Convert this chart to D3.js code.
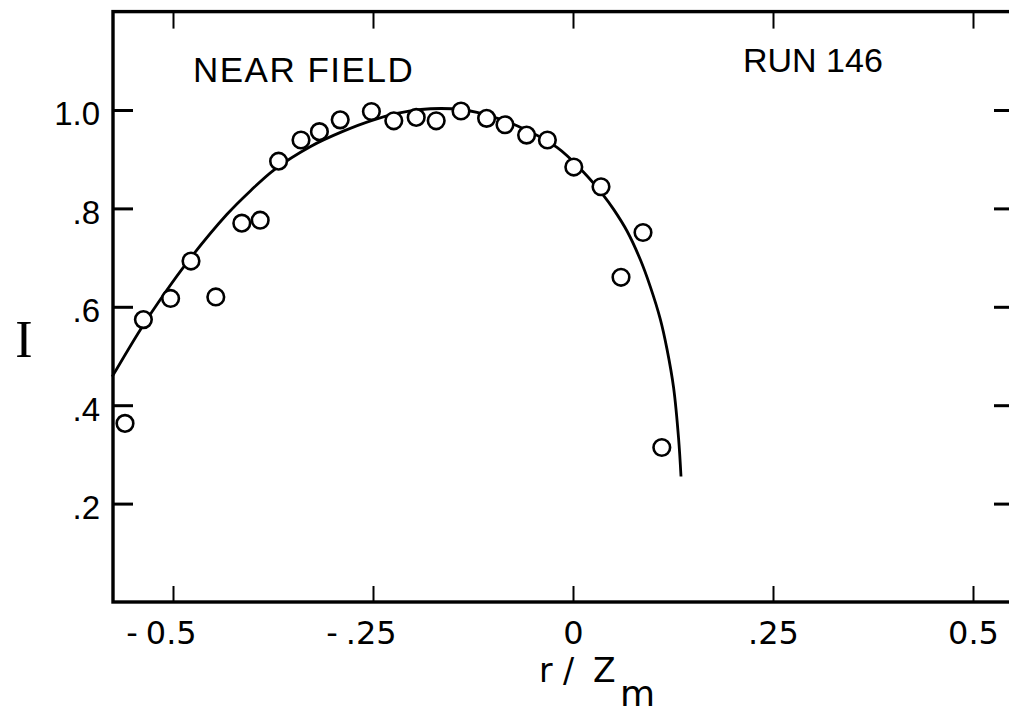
<!DOCTYPE html>
<html>
<head>
<meta charset="utf-8">
<script src="https://cdn.jsdelivr.net/npm/d3@7"></script>
<style>
  html, body { margin: 0; padding: 0; background: #fff; }
  svg { display: block; }
</style>
</head>
<body>
<svg id="chart" width="1009" height="715"></svg>
<script>
// ---- data ----
const xTicks = [-0.5, -0.25, 0, 0.25, 0.5];
const xTickLabels = ["-0.5", "-.25", "0", ".25", "0.5"];
const yTicks = [0.2, 0.4, 0.6, 0.8, 1.0];
const yTickLabels = [".2", ".4", ".6", ".8", "1.0"];

// measured points (r/Zm, I)
const pointR = [-0.560, -0.537, -0.503, -0.4775, -0.4465, -0.414, -0.391, -0.368, -0.340, -0.317,
                -0.291, -0.252, -0.224, -0.196, -0.171, -0.140, -0.108, -0.085, -0.058, -0.032,
                0.001, 0.035, 0.060, 0.0875, 0.111];
const pointI = [0.363, 0.574, 0.617, 0.693, 0.620, 0.770, 0.776, 0.896, 0.939, 0.956,
                0.980, 0.997, 0.978, 0.985, 0.978, 0.998, 0.983, 0.970, 0.949, 0.939,
                0.884, 0.844, 0.660, 0.751, 0.314];

// fitted curve
const curveR = [-0.576, -0.541, -0.512, -0.4825, -0.4325, -0.403, -0.374, -0.328, -0.287, -0.253,
                -0.220, -0.190, -0.165, -0.140, -0.120, -0.070, -0.020, 0.013, 0.0383, 0.0508,
                0.0675, 0.0841, 0.0966, 0.1091, 0.1175, 0.1258, 0.132, 0.135];
const curveI = [0.458, 0.553, 0.624, 0.690, 0.788, 0.836, 0.878, 0.926, 0.957, 0.978,
                0.993, 1.001, 1.003, 1.001, 0.995, 0.968, 0.924, 0.874, 0.826, 0.798,
                0.754, 0.696, 0.641, 0.575, 0.514, 0.435, 0.332, 0.255];

const title1 = "NEAR FIELD";
const title2 = "RUN 146";

// ---- drawing ----
const svg = d3.select("#chart");
const x = d3.scaleLinear().domain([-0.575, 0.55]).range([113, 1013]);
const y = d3.scaleLinear().domain([0, 1.2]).range([602, 11.6]);
const sans = "'Liberation Sans', Arial, sans-serif";
const tickFont = "'DejaVu Sans', sans-serif";

// frame
svg.append("rect")
  .attr("x", x(-0.575)).attr("y", y(1.2))
  .attr("width", x(0.55) - x(-0.575)).attr("height", y(0) - y(1.2))
  .attr("fill", "none").attr("stroke", "#000").attr("stroke-width", 3.4);

// bottom axis (ticks inward, labels below)
const gB = svg.append("g").attr("transform", `translate(0,${y(0)})`)
  .call(d3.axisBottom(x).tickValues(xTicks)
    .tickFormat((d, i) => xTickLabels[i]).tickSizeInner(-16).tickSizeOuter(0).tickPadding(19));
gB.select(".domain").remove();
gB.selectAll(".tick line").attr("stroke", "#000").attr("stroke-width", 2);
gB.selectAll(".tick text")
  .style("font-family", tickFont).style("font-size", "32px").attr("fill", "#000")
  .each(function(d, i) {
    const lab = xTickLabels[i];
    const t = d3.select(this);
    if (lab.startsWith("-")) {
      t.text(null);
      t.attr("dx", -12);
      t.append("tspan").text("-");
      t.append("tspan").attr("dx", 8).text(lab.slice(1));
    }
  });

// top axis (ticks only)
const gT = svg.append("g").attr("transform", `translate(0,${y(1.2)})`)
  .call(d3.axisTop(x).tickValues(xTicks).tickFormat("").tickSizeInner(-17).tickSizeOuter(0));
gT.select(".domain").remove();
gT.selectAll(".tick line").attr("stroke", "#000").attr("stroke-width", 2);

// left axis
const gL = svg.append("g").attr("transform", `translate(${x(-0.575)},0)`)
  .call(d3.axisLeft(y).tickValues(yTicks)
    .tickFormat((d, i) => yTickLabels[i]).tickSizeInner(-20).tickSizeOuter(0).tickPadding(13));
gL.select(".domain").remove();
gL.selectAll(".tick line").attr("stroke", "#000").attr("stroke-width", 3);
gL.selectAll(".tick text")
  .style("font-family", sans).style("font-size", "33px").attr("fill", "#000")
  .attr("dy", "0.45em");

// right axis (ticks only)
const gR = svg.append("g").attr("transform", `translate(${x(0.55)},0)`)
  .call(d3.axisRight(y).tickValues(yTicks).tickFormat("").tickSizeInner(-19).tickSizeOuter(0));
gR.select(".domain").remove();
gR.selectAll(".tick line").attr("stroke", "#000").attr("stroke-width", 3);

// curve
const curveData = curveR.map((r, i) => [r, curveI[i]]);
svg.append("path")
  .datum(curveData)
  .attr("d", d3.line().x(d => x(d[0])).y(d => y(d[1])).curve(d3.curveCatmullRom.alpha(0.5)))
  .attr("fill", "none").attr("stroke", "#000").attr("stroke-width", 2.8);

// points
const pts = pointR.map((r, i) => [r, pointI[i]]);
svg.append("g").selectAll("circle").data(pts).join("circle")
  .attr("cx", d => x(d[0])).attr("cy", d => y(d[1])).attr("r", 8.3)
  .attr("fill", "#fff").attr("stroke", "#000").attr("stroke-width", 2.6);

// annotations
svg.append("text").attr("x", 193).attr("y", 82)
  .style("font-family", sans).style("font-size", "35px").style("letter-spacing", "1.5px")
  .attr("fill", "#000").text(title1);
svg.append("text").attr("x", 743).attr("y", 72)
  .style("font-family", sans).style("font-size", "34px")
  .attr("fill", "#000").text(title2);

// axis titles
const xt = svg.append("text").attr("y", 682)
  .style("font-family", tickFont).style("font-size", "33px").attr("fill", "#000");
xt.append("tspan").attr("x", 539).text("r");
xt.append("tspan").attr("x", 563).text("/");
xt.append("tspan").attr("x", 593).text("Z");
xt.append("tspan").attr("x", 620).attr("y", 706).style("font-size", "36px").text("m");

svg.append("text").attr("x", 24).attr("y", 357).attr("text-anchor", "middle")
  .style("font-family", "'Liberation Serif', 'DejaVu Serif', serif").style("font-size", "52px")
  .attr("fill", "#000").text("I");
</script>
</body>
</html>
